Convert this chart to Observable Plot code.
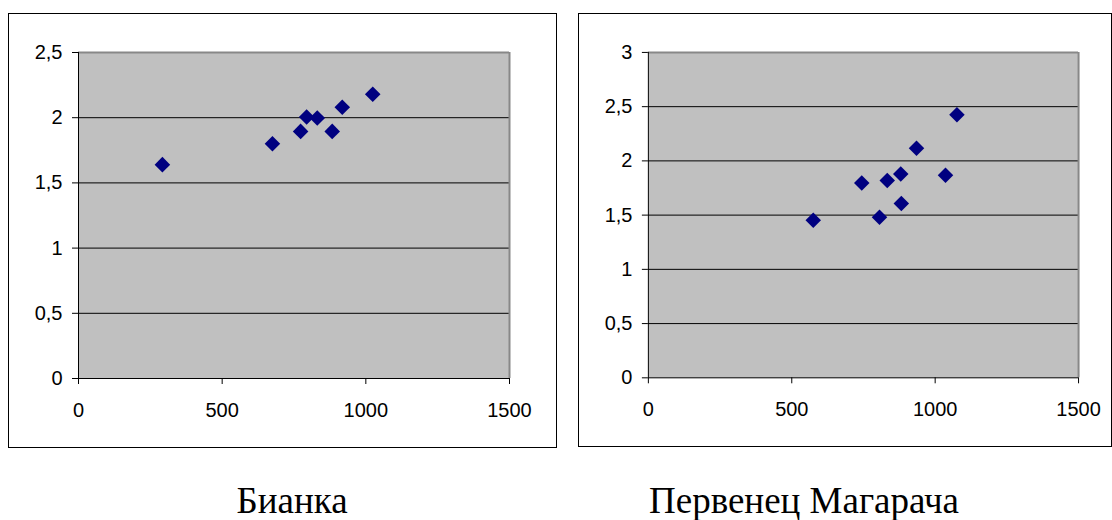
<!DOCTYPE html>
<html>
<head>
<meta charset="utf-8">
<script src="https://cdn.jsdelivr.net/npm/d3@7"></script>
<script src="https://cdn.jsdelivr.net/npm/@observablehq/plot@0.6"></script>
<style>
  html, body { margin: 0; padding: 0; background: #fff; }
  body { width: 1112px; height: 520px; position: relative; overflow: hidden; }
  .panel { position: absolute; top: 13px; border: 1px solid #000; background: #fff; }
  .panel svg { display: block; }
  .caption {
    position: absolute; top: 483px; line-height: 36px;
    font-family: "Liberation Serif", "Times New Roman", "DejaVu Serif", serif; font-size: 37px;
    color: #000; white-space: nowrap; transform: translateX(-50%);
  }
</style>
</head>
<body>
<div id="left" class="panel" style="left:8px"></div>
<div id="right" class="panel" style="left:578px"></div>
<div class="caption" style="left:292px">Бианка</div>
<div class="caption" style="left:804px">Первенец Магарача</div>
<script>
// Sort "Бианка": x and y values of each observation
const biankaX = [292, 675, 773, 794, 831, 883, 918, 1024];
const biankaY = [1.64, 1.80, 1.895, 2.005, 1.998, 1.895, 2.08, 2.18];

// Sort "Первенец Магарача"
const pervenetsX = [575, 744, 806, 833, 880, 882, 935, 1036, 1076];
const pervenetsY = [1.453, 1.797, 1.481, 1.82, 1.88, 1.607, 2.116, 1.868, 2.426];

// Axis ticks
const xTicks = [0, 500, 1000, 1500];
const biankaYTicks = [0, 0.5, 1, 1.5, 2, 2.5];
const pervenetsYTicks = [0, 0.5, 1, 1.5, 2, 2.5, 3];

// decimal comma, as in the Russian locale
const commaFmt = d => String(d).replace(".", ",");

function scatter(xs, ys, yTicks, width, marginRight) {
  const pts = xs.map((x, i) => ({x, y: ys[i]}));
  const xMax = xTicks[xTicks.length - 1];
  const yMax = yTicks[yTicks.length - 1];
  return Plot.plot({
    width,
    height: 433,
    marginLeft: 69,
    marginRight,
    marginTop: 38,
    marginBottom: 69,
    x: {domain: [0, xMax], axis: null},
    y: {domain: [0, yMax], axis: null},
    style: {
      fontFamily: '"Liberation Sans", Arial, sans-serif',
      fontSize: "20px",
      background: "transparent",
      color: "#000",
      overflow: "visible"
    },
    marks: [
      Plot.frame({fill: "#c0c0c0", stroke: "none"}),
      Plot.ruleY(yTicks.filter(t => t > 0 && t < yMax), {stroke: "#000", strokeWidth: 1}),
      Plot.ruleY([yMax], {stroke: "#888", strokeWidth: 2}),
      Plot.ruleX([xMax], {stroke: "#888", strokeWidth: 2}),
      Plot.axisY({ticks: yTicks, tickFormat: commaFmt, tickSize: 6, tickPadding: 10, fontSize: 20, label: null}),
      Plot.axisX({ticks: xTicks, tickFormat: d => String(d), tickSize: 6, tickPadding: 18, fontSize: 20, label: null}),
      Plot.ruleX([0], {stroke: "#000"}),
      Plot.ruleY([0], {stroke: "#000"}),
      Plot.dot(pts, {x: "x", y: "y", symbol: "diamond2", r: 7, fill: "#000080", stroke: "none"})
    ]
  });
}

document.getElementById("left").appendChild(scatter(biankaX, biankaY, biankaYTicks, 547, 47));
document.getElementById("right").appendChild(scatter(pervenetsX, pervenetsY, pervenetsYTicks, 533, 33));
</script>
</body>
</html>
